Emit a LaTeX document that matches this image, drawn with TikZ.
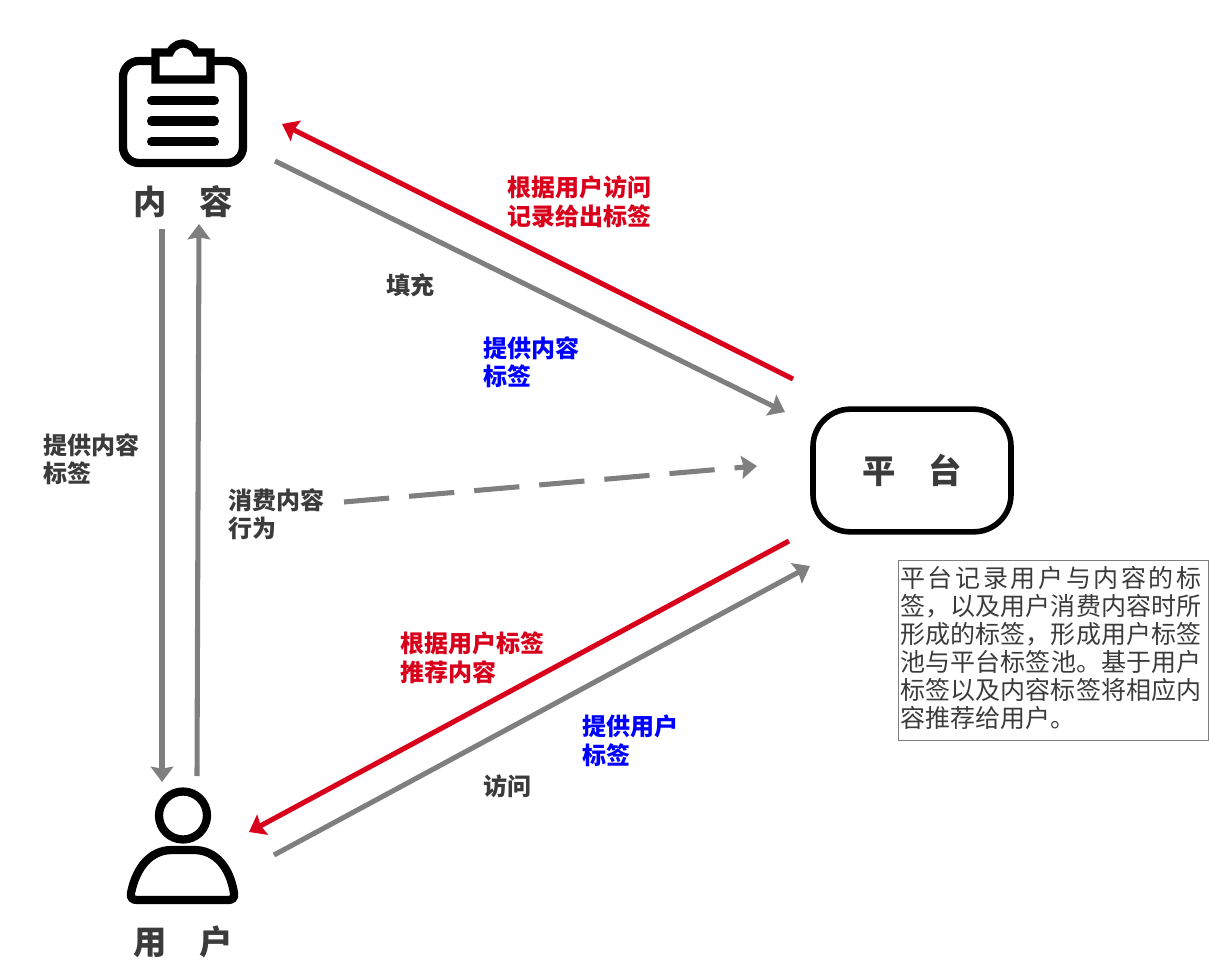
\documentclass[tikz,border=0pt]{standalone}
\usepackage{fontspec}
\usetikzlibrary{arrows.meta}
\newfontfamily\cjk{Noto Sans CJK SC}
\XeTeXlinebreaklocale "zh"
\XeTeXlinebreakskip=0pt plus 3pt
\definecolor{flowred}{HTML}{D9001B}
\definecolor{flowgray}{HTML}{7F7F7F}
\definecolor{flowblue}{HTML}{0000FF}
\definecolor{textdark}{HTML}{3B3B3B}

\begin{document}
\begin{tikzpicture}[
    x=0.75pt,
    y=-0.75pt,
    font=\cjk,
    flow/.style={draw=#1, line width=3.8pt, -{Stealth[length=11.5pt, width=17pt, inset=1.5pt]}},
    icon/.style={draw=black, line width=6.2pt},
    title/.style={text=textdark, font=\cjk\bfseries\fontsize{25}{28}\selectfont, inner sep=0pt},
    tag/.style={text=#1, font=\cjk\bfseries\fontsize{18}{21.4}\selectfont, anchor=west, align=left, inner sep=0pt}
]
    \useasboundingbox (0,0) rectangle (1209,962);

    % Content icon
    \draw[icon, rounded corners=12pt] (123,61) rectangle (243,163);
    \draw[icon, fill=white] (155.5,52.5) -- (170,52.5) arc[start angle=201, end angle=339, radius=14] -- (210.5,52.5) -- (210.5,79.5) -- (155.5,79.5) -- cycle;
    \foreach \y in {100.7,121,141.7}
        \draw[icon, line width=6.8pt, line cap=round] (151.5,\y) -- (214.5,\y);

    % User icon
    \draw[icon] (183,815.5) circle[radius=24];
    \draw[icon] (131,893) .. controls (136,868) and (150,850) .. (172,850) -- (194,850) .. controls (216,850) and (230,868) .. (234,893) .. controls (235,898) and (232,900) .. (228,900) -- (137,900) .. controls (133,900) and (130,898) .. (131,893) -- cycle;

    % Main nodes
    \node[title] (content) at (183,201.5) {内　容};
    \node[title] (user) at (183,942) {用　户};
    \node[draw=black, line width=4.2pt, rounded corners=28pt, minimum width=148.5pt, minimum height=92pt, title] (platform) at (912,470.5) {平　台};

    % Note
    \node[draw=flowgray, line width=0.7pt, anchor=north west, text=textdark, text width=226pt, minimum height=135pt, inner xsep=3.3pt, inner ysep=2.5pt, align=justify, font=\cjk\fontsize{18.75}{21.1}\selectfont] (note) at (898,560) {\leftskip=-2pt\rightskip=2pt 平台记录用户与内容的标签，以及用户消费内容时所形成的标签，形成用户标签池与平台标签池。基于用户标签以及内容标签将相应内容推荐给用户。\par\vspace{3.5pt}};

    % Free ends of the arrows
    \coordinate (redtopstart) at (793,379);
    \coordinate (redtopend) at (282,124);
    \coordinate (graytopstart) at (275,161);
    \coordinate (graytopend) at (785,412);
    \coordinate (dashstart) at (344,502);
    \coordinate (dashend) at (757,466);
    \coordinate (redlowstart) at (789,541);
    \coordinate (redlowend) at (249,832);
    \coordinate (graylowstart) at (274,855);
    \coordinate (graylowend) at (810,566);
    \coordinate (downstart) at (162,229);
    \coordinate (downend) at (162,782);
    \coordinate (upstart) at (197,776);
    \coordinate (upend) at (199,224);

    % Arrows
    \draw[flow=flowred] (redtopstart) -- (redtopend);
    \draw[flow=flowgray] (graytopstart) -- (graytopend);
    \draw[flow=flowgray, dash pattern=on 34pt off 15pt] (dashstart) -- (dashend);
    \draw[flow=flowred] (redlowstart) -- (redlowend);
    \draw[flow=flowgray] (graylowstart) -- (graylowend);
    \draw[flow=flowgray] (downstart) -- (downend);
    \draw[flow=flowgray] (upstart) -- (upend);

    % Labels
    \node[tag=flowred] (tagrecord) at (507,202) {根据用户访问\\记录给出标签};
    \node[tag=textdark] (tagfill) at (386,285) {填充};
    \node[tag=flowblue] (tagcontent) at (483,362) {提供内容\\标签};
    \node[tag=textdark] (tagsupply) at (43,459) {提供内容\\标签};
    \node[tag=textdark] (tagconsume) at (228,514) {消费内容\\行为};
    \node[tag=flowred] (tagrecommend) at (400,658) {根据用户标签\\推荐内容};
    \node[tag=flowblue] (taguser) at (582,741) {提供用户\\标签};
    \node[tag=textdark] (tagvisit) at (483,786) {访问};
\end{tikzpicture}
\end{document}
